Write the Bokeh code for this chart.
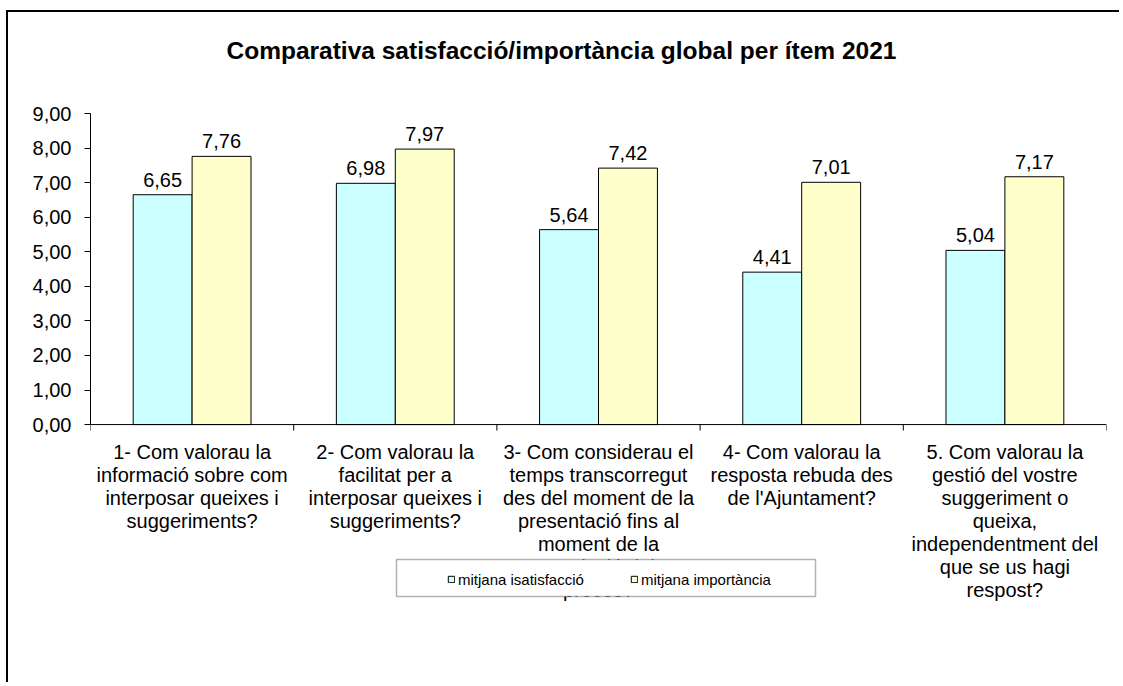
from bokeh.plotting import figure
from bokeh.models import (ColumnDataSource, Legend, LegendItem, FixedTicker, Range1d, Title,
                          BoxAnnotation)
from bokeh.core.properties import value
from bokeh.embed import file_html
from bokeh.resources import INLINE

categories = [
    "1- Com valorau la\ninformació sobre com\ninterposar queixes i\nsuggeriments?",
    "2- Com valorau la\nfacilitat per a\ninterposar queixes i\nsuggeriments?",
    "3- Com considerau el\ntemps transcorregut\ndes del moment de la\npresentació fins al\nmoment de la\nresolució del\nprocés?",
    "4- Com valorau la\nresposta rebuda des\nde l'Ajuntament?",
    "5. Com valorau la\ngestió del vostre\nsuggeriment o\nqueixa,\nindependentment del\nque se us hagi\nrespost?",
]
satisfaccio = [6.65, 6.98, 5.64, 4.41, 5.04]
importancia = [7.76, 7.97, 7.42, 7.01, 7.17]
y_ticks = [0, 1, 2, 3, 4, 5, 6, 7, 8, 9]
y_tick_labels = ["0,00", "1,00", "2,00", "3,00", "4,00", "5,00", "6,00", "7,00", "8,00", "9,00"]
series_names = ["mitjana isatisfacció", "mitjana importància"]
title_text = "Comparativa satisfacció/importància global per ítem 2021"

FONT = "Liberation Sans"
BAR_W = 0.29
Y_MAX = 9.0
Y_MIN_VIEW = -7.52   # room below the axis for the category texts and legend

def fmt(v):
    return f"{v:.2f}".replace(".", ",")

n = len(categories)
centers = [i + 0.5 for i in range(n)]
src_s = ColumnDataSource(dict(x=[c - BAR_W / 2 for c in centers], top=satisfaccio,
                              lab=[fmt(v) for v in satisfaccio]))
src_i = ColumnDataSource(dict(x=[c + BAR_W / 2 for c in centers], top=importancia,
                              lab=[fmt(v) for v in importancia]))
src_c = ColumnDataSource(dict(x=centers, y=[0] * n, lab=categories))

p = figure(width=1113, height=672, output_backend="svg", toolbar_location=None,
           x_range=Range1d(0, n), y_range=Range1d(Y_MIN_VIEW, Y_MAX),
           x_axis_location=None,
           min_border_left=82, min_border_right=15, min_border_top=101, min_border_bottom=0,
           background_fill_color="white", border_fill_color="white")
p.styles = {"border-left": "2px solid black", "border-top": "2px solid black",
            "margin-top": "10px", "margin-left": "6px"}
p.outline_line_color = None
p.grid.visible = False

t = Title(text=title_text, align="left", offset=136, text_font=FONT, text_font_size="24.5px",
          text_font_style="bold", text_color="black", standoff=0,
          padding=dict(left=0, right=0, top=0, bottom=50))
p.add_layout(t, "above")

r_s = p.vbar(x="x", top="top", width=BAR_W, source=src_s, fill_color="#CCFFFF",
             line_color="black", line_width=1)
r_i = p.vbar(x="x", top="top", width=BAR_W, source=src_i, fill_color="#FFFFCC",
             line_color="black", line_width=1)
for src in (src_s, src_i):
    p.text(x="x", y="top", text="lab", source=src, text_align="center",
           text_baseline="bottom", y_offset=-8, text_font_size="20px",
           text_font=value(FONT), text_color="black")

# category axis drawn at y = 0
p.segment(x0=[0], y0=[0], x1=[n], y1=[0], line_color="black", line_width=1)
p.ray(x=list(range(n + 1)), y=[0] * (n + 1), length=6, length_units="screen",
      angle=-90, angle_units="deg", line_color="black", line_width=1)
p.text(x="x", y="y", text="lab", source=src_c, text_align="center", text_baseline="top",
       y_offset=16, text_font_size="20px", text_font=value(FONT), text_color="black",
       text_line_height=1.05)

# y axis
ya = p.yaxis[0]
ya.bounds = (0, Y_MAX)
ya.ticker = FixedTicker(ticks=y_ticks)
ya.major_label_overrides = {t_: l for t_, l in zip(y_ticks, y_tick_labels)}
ya.major_label_text_font = FONT
ya.major_label_text_font_size = "20px"
ya.major_label_text_color = "black"
ya.major_tick_out = 6
ya.major_tick_in = 0
ya.minor_tick_line_color = None
ya.axis_line_color = "black"
ya.major_tick_line_color = "black"
ya.major_label_standoff = 13

# legend box (screen units relative to the plot frame)
box = BoxAnnotation(left=306, right=725, top=125, bottom=88, left_units="screen",
                    right_units="screen", top_units="screen", bottom_units="screen",
                    fill_color="white", fill_alpha=1.0, line_color="black", line_width=1.5)
p.add_layout(box)

legend = Legend(items=[LegendItem(label=series_names[0], renderers=[r_s]),
                       LegendItem(label=series_names[1], renderers=[r_i])],
                orientation="horizontal", location=(357, 96),
                label_text_font=FONT, label_text_font_size="15px", label_text_color="black",
                glyph_width=8, glyph_height=8, label_standoff=3, spacing=46,
                padding=10, margin=0, border_line_color=None,
                background_fill_alpha=0.0, label_height=18)
p.add_layout(legend, "center")

open("out.html", "w").write(file_html(p, INLINE))
